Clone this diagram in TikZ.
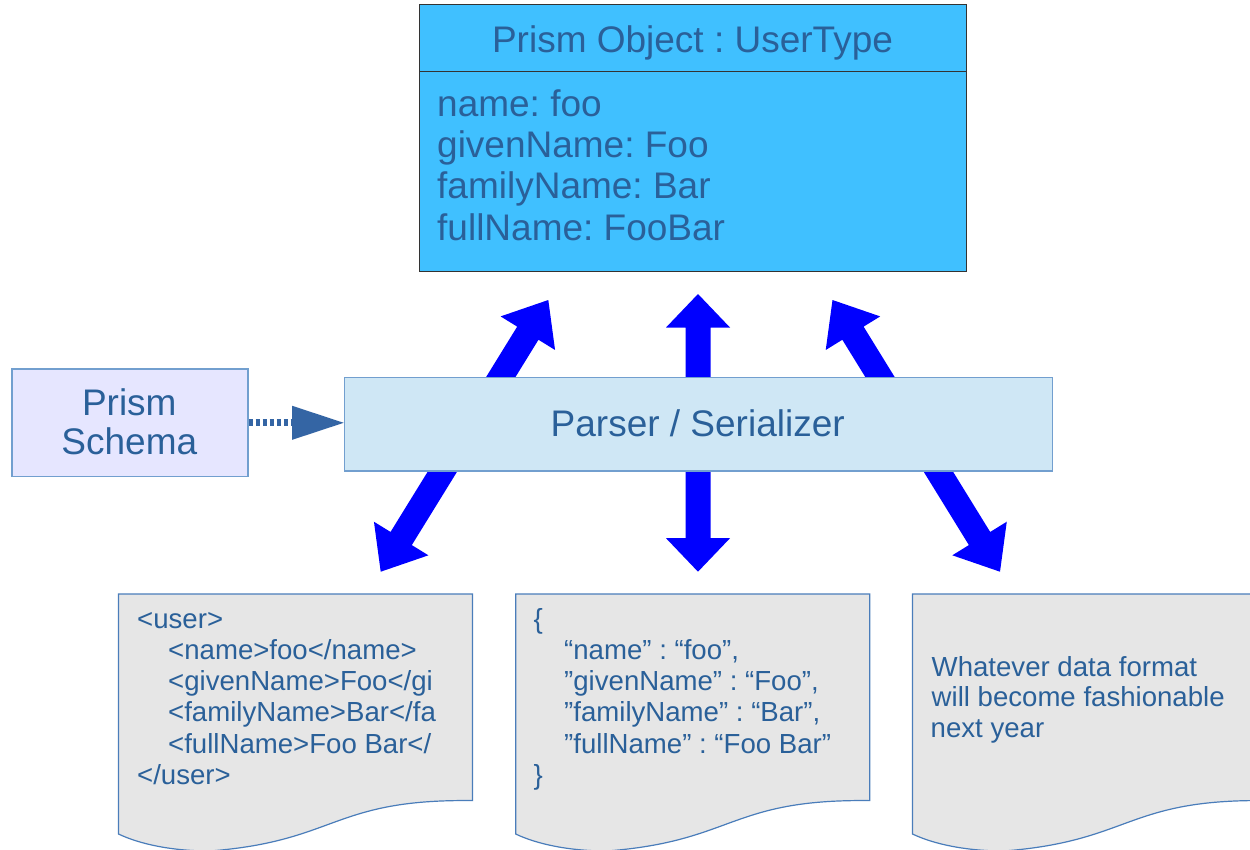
\documentclass[tikz,border=0pt]{standalone}
\usepackage{fontspec}
\setmainfont{Liberation Sans}
\frenchspacing
\usetikzlibrary{calc,arrows.meta}

\definecolor{txtblue}{HTML}{2A6099}
\definecolor{objfill}{RGB}{64,192,255}
\definecolor{objline}{HTML}{333333}
\definecolor{parsefill}{HTML}{CFE7F5}
\definecolor{boxline}{HTML}{729FCF}
\definecolor{schemafill}{HTML}{E6E6FF}
\definecolor{docfill}{HTML}{E6E6E6}
\definecolor{docline}{HTML}{4A7DBA}
\definecolor{dotblue}{HTML}{3465A4}
\definecolor{flowblue}{HTML}{0000FF}

% double-headed block arrow between two tips: #1, #2 tips, #3 head length
\newcommand\blockarrow[3]{%
  \fill[flowarrow] (#1)
    -- ($(#1)!#3!(#2)!32pt!90:(#2)$)
    -- ($(#1)!#3!(#2)!12.5pt!90:(#2)$)
    -- ($(#2)!#3!(#1)!12.5pt!-90:(#1)$)
    -- ($(#2)!#3!(#1)!32pt!-90:(#1)$)
    -- (#2)
    -- ($(#2)!#3!(#1)!32pt!90:(#1)$)
    -- ($(#2)!#3!(#1)!12.5pt!90:(#1)$)
    -- ($(#1)!#3!(#2)!12.5pt!-90:(#2)$)
    -- ($(#1)!#3!(#2)!32pt!-90:(#2)$)
    -- cycle;}

% flowchart "document" sheet with a wavy lower edge: #1 name, (#2,#3) top left
\newcommand\docsheet[3]{%
  \begin{scope}[shift={(#2,#3)}]
    \draw[docstyle] (0,0) -- (354,0) -- (354,206.6)
      .. controls (213.8,204.8) and (218.8,247.2) .. (91.3,257)
      .. controls (53,257) and (21,250) .. (0,240) -- cycle;
    \node[inner sep=0pt, minimum width=354pt, minimum height=257pt,
          anchor=north west] (#1) at (0,0) {};
  \end{scope}}

\begin{document}
\begin{tikzpicture}[x=1pt, y=-1pt,
  lbl/.style={inner sep=0pt, text=txtblue},
  bigtxt/.style={lbl, font=\fontsize{37}{41}\selectfont},
  doctxt/.style={lbl, font=\fontsize{27.6}{31.2}\selectfont, anchor=base west},
  objtxt/.style={bigtxt, anchor=base west},
  flowarrow/.style={fill=flowblue},
  docstyle/.style={draw=docline, fill=docfill, line width=1.2pt},
  plainbox/.style={inner sep=0pt, anchor=north west},
  dotarrow/.style={draw=dotblue, line width=7pt, dash pattern=on 4.5pt off 2.5pt,
    -{Triangle[width=34pt, length=51.5pt, line width=0pt]}}
]
\useasboundingbox (0,0) rectangle (1250,849);
\clip (0,0) rectangle (1250,849);
\fill[white] (0,0) rectangle (1250,849);

% tips of the three two-way flow arrows
\coordinate (ltop) at (548.3,300);
\coordinate (lbot) at (380.7,571.7);
\coordinate (ctop) at (698,294);
\coordinate (cbot) at (698,571.7);
\coordinate (rtop) at (832.5,300);
\coordinate (rbot) at (1000,571.7);

\blockarrow{ltop}{lbot}{39pt}
\blockarrow{ctop}{cbot}{33.5pt}
\blockarrow{rtop}{rbot}{39pt}

% object box
\node[plainbox, draw=objline, fill=objfill, line width=1.3pt,
      minimum width=547pt, minimum height=267pt] (obj) at (419,4) {};
\draw[objline, line width=1.3pt] ($(obj.north west)+(0,67.7)$) -- ($(obj.north east)+(0,67.7)$);
\node[bigtxt, anchor=base] (objtitle) at (692.5,52) {Prism Object : UserType};
\node[objtxt] (attr1) at (437,116) {name: foo};
\node[objtxt] (attr2) at (437,157.3) {givenName: Foo};
\node[objtxt] (attr3) at (437,198.6) {familyName: Bar};
\node[objtxt] (attr4) at (437,240) {fullName: FooBar};

% parser and schema
\node[plainbox, draw=boxline, fill=parsefill, line width=1.3pt,
      minimum width=708pt, minimum height=93.6pt] (parser) at (343.7,376.7) {};
\node[bigtxt, anchor=base] (parsertxt) at (697.7,436.7) {Parser / Serializer};

\node[plainbox, draw=boxline, fill=schemafill, line width=1.3pt,
      minimum width=236pt, minimum height=107.7pt] (schema) at (11.3,368.3) {};
\node[bigtxt, anchor=base] (schema1) at (129.3,415) {Prism};
\node[bigtxt, anchor=base] (schema2) at (129.3,454.3) {Schema};

\draw[dotarrow] (schema.east) -- (schema.east -| parser.west);

% data format documents
\docsheet{xmldoc}{118.5}{594}
\docsheet{jsondoc}{515.7}{594}
\docsheet{otherdoc}{912.5}{594}

\node[doctxt] (x1) at (137,628.3) {<user>};
\node[doctxt] (x2) at (168,659.5) {<name>foo</name>};
\node[doctxt] (x3) at (168,690.7) {<givenName>Foo</gi};
\node[doctxt] (x4) at (168,721.9) {<familyName>Bar</fa};
\node[doctxt] (x5) at (168,753.1) {<fullName>Foo Bar</};
\node[doctxt] (x6) at (137,784.3) {</user>};

\node[doctxt] (j1) at (533.5,628.3) {\{};
\node[doctxt] (j2) at (564,659.5) {“name” : “foo”,};
\node[doctxt] (j3) at (564,690.7) {”givenName” : “Foo”,};
\node[doctxt] (j4) at (564,721.9) {”familyName” : “Bar”,};
\node[doctxt] (j5) at (564,753.1) {”fullName” : “Foo Bar”};
\node[doctxt] (j6) at (533.5,784.3) {\}};

\node[doctxt] (o1) at (931.5,676) {Whatever data format};
\node[doctxt] (o2) at (931.5,706.8) {will become fashionable};
\node[doctxt] (o3) at (930.5,737.6) {next year};
\end{tikzpicture}
\end{document}
